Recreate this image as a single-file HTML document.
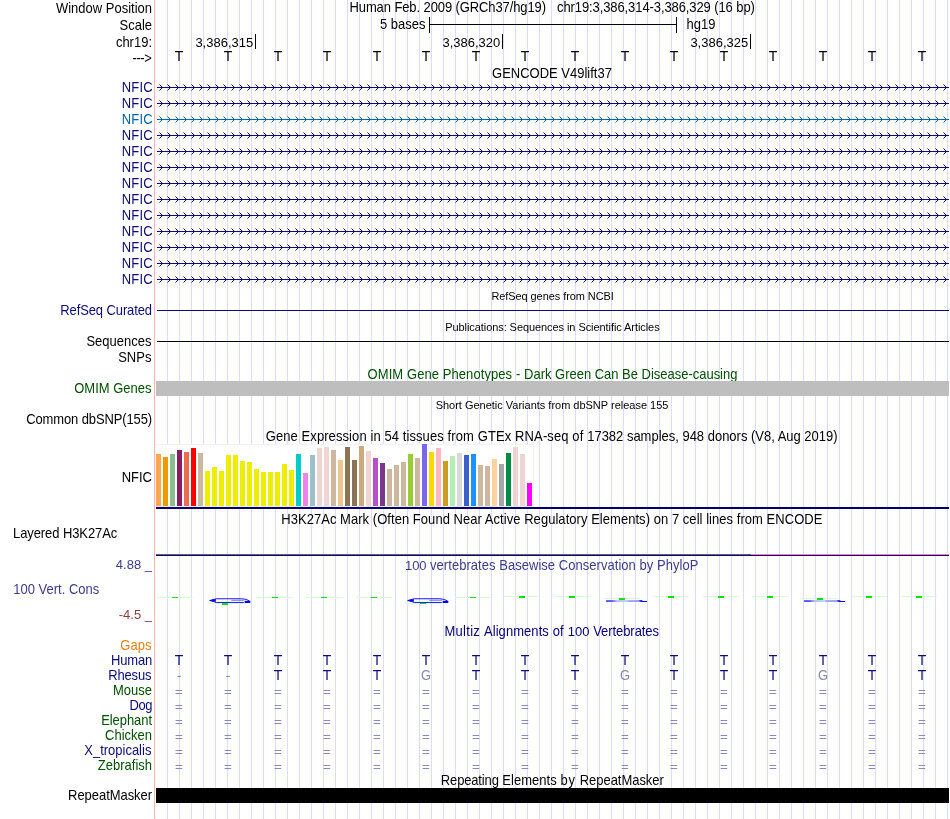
<!DOCTYPE html>
<html><head><meta charset="utf-8"><title>UCSC Genome Browser</title>
<style>
html,body{margin:0;padding:0;background:#fff;}
body{width:950px;height:819px;overflow:hidden;font-family:"Liberation Sans",sans-serif;}
svg{display:block;position:absolute;left:0;top:0;will-change:transform;}
text{font-family:"Liberation Sans",sans-serif;font-size:13px;}
.s{font-size:11px;}
.t{font-size:14px;}
.r{text-anchor:end;}
.c{text-anchor:middle;}
.x{shape-rendering:crispEdges;}
</style></head><body>
<svg width="950" height="819" viewBox="0 0 950 819">
<rect width="950" height="819" fill="#fff"/>
<g class="x" fill="#dcdcff">
<rect x="167" y="0" width="1" height="819"/><rect x="179" y="0" width="1" height="819"/><rect x="191" y="0" width="1" height="819"/><rect x="203" y="0" width="1" height="819"/><rect x="215" y="0" width="1" height="819"/><rect x="227" y="0" width="1" height="819"/><rect x="239" y="0" width="1" height="819"/><rect x="251" y="0" width="1" height="819"/><rect x="263" y="0" width="1" height="819"/><rect x="275" y="0" width="1" height="819"/><rect x="287" y="0" width="1" height="819"/><rect x="299" y="0" width="1" height="819"/><rect x="311" y="0" width="1" height="819"/><rect x="323" y="0" width="1" height="819"/><rect x="335" y="0" width="1" height="819"/><rect x="347" y="0" width="1" height="819"/><rect x="359" y="0" width="1" height="819"/><rect x="371" y="0" width="1" height="819"/><rect x="383" y="0" width="1" height="819"/><rect x="395" y="0" width="1" height="819"/><rect x="407" y="0" width="1" height="819"/><rect x="419" y="0" width="1" height="819"/><rect x="431" y="0" width="1" height="819"/><rect x="443" y="0" width="1" height="819"/><rect x="455" y="0" width="1" height="819"/><rect x="467" y="0" width="1" height="819"/><rect x="479" y="0" width="1" height="819"/><rect x="491" y="0" width="1" height="819"/><rect x="503" y="0" width="1" height="819"/><rect x="515" y="0" width="1" height="819"/><rect x="527" y="0" width="1" height="819"/><rect x="539" y="0" width="1" height="819"/><rect x="551" y="0" width="1" height="819"/><rect x="563" y="0" width="1" height="819"/><rect x="575" y="0" width="1" height="819"/><rect x="587" y="0" width="1" height="819"/><rect x="599" y="0" width="1" height="819"/><rect x="611" y="0" width="1" height="819"/><rect x="623" y="0" width="1" height="819"/><rect x="635" y="0" width="1" height="819"/><rect x="647" y="0" width="1" height="819"/><rect x="659" y="0" width="1" height="819"/><rect x="671" y="0" width="1" height="819"/><rect x="683" y="0" width="1" height="819"/><rect x="695" y="0" width="1" height="819"/><rect x="707" y="0" width="1" height="819"/><rect x="719" y="0" width="1" height="819"/><rect x="731" y="0" width="1" height="819"/><rect x="743" y="0" width="1" height="819"/><rect x="755" y="0" width="1" height="819"/><rect x="767" y="0" width="1" height="819"/><rect x="779" y="0" width="1" height="819"/><rect x="791" y="0" width="1" height="819"/><rect x="803" y="0" width="1" height="819"/><rect x="815" y="0" width="1" height="819"/><rect x="827" y="0" width="1" height="819"/><rect x="839" y="0" width="1" height="819"/><rect x="851" y="0" width="1" height="819"/><rect x="863" y="0" width="1" height="819"/><rect x="875" y="0" width="1" height="819"/><rect x="887" y="0" width="1" height="819"/><rect x="899" y="0" width="1" height="819"/><rect x="911" y="0" width="1" height="819"/><rect x="923" y="0" width="1" height="819"/><rect x="935" y="0" width="1" height="819"/><rect x="947" y="0" width="1" height="819"/>
</g>
<rect class="x" x="154" y="0" width="1" height="819" fill="#ffb4b4"/>
<g class="x" fill="#000">
<rect x="429" y="17" width="1" height="16"/><rect x="676" y="17" width="1" height="16"/><rect x="429" y="24" width="248" height="1"/>
<rect x="255" y="34" width="1" height="15"/><rect x="502" y="34" width="1" height="15"/><rect x="750" y="34" width="1" height="15"/>
</g>
<g fill="#000">
<text class="r" x="152" y="13" transform="matrix(1 0 0 1.075 0 -0.975)">Window Position</text>
<text class="r" x="152" y="30" transform="matrix(1 0 0 1.075 0 -2.250)">Scale</text>
<text class="r" x="152" y="47" transform="matrix(1 0 0 1.075 0 -3.525)">chr19:</text>
<text class="r" x="151.3" y="63.1" style="letter-spacing:-0.45px" transform="matrix(1 0 0 1.075 0 -4.732)">---&gt;</text>
<text x="349.5" y="12" style="letter-spacing:-0.096px" transform="matrix(1 0 0 1.075 0 -0.900)">Human Feb. 2009 (GRCh37/hg19)</text>
<text x="557" y="12" style="letter-spacing:-0.09px" transform="matrix(1 0 0 1.075 0 -0.900)">chr19:3,386,314-3,386,329 (16 bp)</text>
<text class="r" x="425.5" y="29" transform="matrix(1 0 0 1.075 0 -2.175)">5 bases</text>
<text x="686.5" y="29" transform="matrix(1 0 0 1.075 0 -2.175)">hg19</text>
<text class="r" x="253.2" y="47" transform="matrix(1 0 0 0.98 0 0.940)">3,386,315</text><text class="r" x="500.2" y="47" transform="matrix(1 0 0 0.98 0 0.940)">3,386,320</text><text class="r" x="748.2" y="47" transform="matrix(1 0 0 0.98 0 0.940)">3,386,325</text>
<text class="c t" x="179" y="60.8" transform="matrix(1 0 0 1.04 0 -2.432)">T</text><text class="c t" x="228" y="60.8" transform="matrix(1 0 0 1.04 0 -2.432)">T</text><text class="c t" x="278" y="60.8" transform="matrix(1 0 0 1.04 0 -2.432)">T</text><text class="c t" x="327" y="60.8" transform="matrix(1 0 0 1.04 0 -2.432)">T</text><text class="c t" x="377" y="60.8" transform="matrix(1 0 0 1.04 0 -2.432)">T</text><text class="c t" x="426" y="60.8" transform="matrix(1 0 0 1.04 0 -2.432)">T</text><text class="c t" x="476" y="60.8" transform="matrix(1 0 0 1.04 0 -2.432)">T</text><text class="c t" x="525" y="60.8" transform="matrix(1 0 0 1.04 0 -2.432)">T</text><text class="c t" x="575" y="60.8" transform="matrix(1 0 0 1.04 0 -2.432)">T</text><text class="c t" x="625" y="60.8" transform="matrix(1 0 0 1.04 0 -2.432)">T</text><text class="c t" x="674" y="60.8" transform="matrix(1 0 0 1.04 0 -2.432)">T</text><text class="c t" x="724" y="60.8" transform="matrix(1 0 0 1.04 0 -2.432)">T</text><text class="c t" x="773" y="60.8" transform="matrix(1 0 0 1.04 0 -2.432)">T</text><text class="c t" x="823" y="60.8" transform="matrix(1 0 0 1.04 0 -2.432)">T</text><text class="c t" x="872" y="60.8" transform="matrix(1 0 0 1.04 0 -2.432)">T</text><text class="c t" x="922" y="60.8" transform="matrix(1 0 0 1.04 0 -2.432)">T</text>
</g>
<text class="c" x="552" y="78" transform="matrix(1 0 0 1.075 0 -5.850)">GENCODE V49lift37</text>
<defs><linearGradient id="fg" x1="0" x2="1" y1="0" y2="0"><stop offset="0" stop-color="#3c3cff"/><stop offset="0.16" stop-color="#4848ff"/><stop offset="0.3" stop-color="#b4b4ff"/><stop offset="0.58" stop-color="#c4c4ff"/><stop offset="0.62" stop-color="#9c9cff"/><stop offset="0.9" stop-color="#8c8cff"/><stop offset="1" stop-color="#5050ff"/></linearGradient><g id="g"><rect class="x" x="157" y="-0.5" width="792" height="1" stroke="none"/><path fill="none" stroke-width="1" d="M159.5 -3l3 3l-3 3M167.5 -3l3 3l-3 3M175.5 -3l3 3l-3 3M183.5 -3l3 3l-3 3M191.5 -3l3 3l-3 3M199.5 -3l3 3l-3 3M207.5 -3l3 3l-3 3M215.5 -3l3 3l-3 3M223.5 -3l3 3l-3 3M231.5 -3l3 3l-3 3M239.5 -3l3 3l-3 3M247.5 -3l3 3l-3 3M255.5 -3l3 3l-3 3M263.5 -3l3 3l-3 3M271.5 -3l3 3l-3 3M279.5 -3l3 3l-3 3M287.5 -3l3 3l-3 3M295.5 -3l3 3l-3 3M303.5 -3l3 3l-3 3M311.5 -3l3 3l-3 3M319.5 -3l3 3l-3 3M327.5 -3l3 3l-3 3M335.5 -3l3 3l-3 3M343.5 -3l3 3l-3 3M351.5 -3l3 3l-3 3M359.5 -3l3 3l-3 3M367.5 -3l3 3l-3 3M375.5 -3l3 3l-3 3M383.5 -3l3 3l-3 3M391.5 -3l3 3l-3 3M399.5 -3l3 3l-3 3M407.5 -3l3 3l-3 3M415.5 -3l3 3l-3 3M423.5 -3l3 3l-3 3M431.5 -3l3 3l-3 3M439.5 -3l3 3l-3 3M447.5 -3l3 3l-3 3M455.5 -3l3 3l-3 3M463.5 -3l3 3l-3 3M471.5 -3l3 3l-3 3M479.5 -3l3 3l-3 3M487.5 -3l3 3l-3 3M495.5 -3l3 3l-3 3M503.5 -3l3 3l-3 3M511.5 -3l3 3l-3 3M519.5 -3l3 3l-3 3M527.5 -3l3 3l-3 3M535.5 -3l3 3l-3 3M543.5 -3l3 3l-3 3M551.5 -3l3 3l-3 3M559.5 -3l3 3l-3 3M567.5 -3l3 3l-3 3M575.5 -3l3 3l-3 3M583.5 -3l3 3l-3 3M591.5 -3l3 3l-3 3M599.5 -3l3 3l-3 3M607.5 -3l3 3l-3 3M615.5 -3l3 3l-3 3M623.5 -3l3 3l-3 3M631.5 -3l3 3l-3 3M639.5 -3l3 3l-3 3M647.5 -3l3 3l-3 3M655.5 -3l3 3l-3 3M663.5 -3l3 3l-3 3M671.5 -3l3 3l-3 3M679.5 -3l3 3l-3 3M687.5 -3l3 3l-3 3M695.5 -3l3 3l-3 3M703.5 -3l3 3l-3 3M711.5 -3l3 3l-3 3M719.5 -3l3 3l-3 3M727.5 -3l3 3l-3 3M735.5 -3l3 3l-3 3M743.5 -3l3 3l-3 3M751.5 -3l3 3l-3 3M759.5 -3l3 3l-3 3M767.5 -3l3 3l-3 3M775.5 -3l3 3l-3 3M783.5 -3l3 3l-3 3M791.5 -3l3 3l-3 3M799.5 -3l3 3l-3 3M807.5 -3l3 3l-3 3M815.5 -3l3 3l-3 3M823.5 -3l3 3l-3 3M831.5 -3l3 3l-3 3M839.5 -3l3 3l-3 3M847.5 -3l3 3l-3 3M855.5 -3l3 3l-3 3M863.5 -3l3 3l-3 3M871.5 -3l3 3l-3 3M879.5 -3l3 3l-3 3M887.5 -3l3 3l-3 3M895.5 -3l3 3l-3 3M903.5 -3l3 3l-3 3M911.5 -3l3 3l-3 3M919.5 -3l3 3l-3 3M927.5 -3l3 3l-3 3M935.5 -3l3 3l-3 3M943.5 -3l3 3l-3 3"/></g></defs>
<use href="#g" y="87.5" fill="#0c0c78" stroke="#0c0c78"/><text class="r" x="152.75" y="92" fill="#0c0c78" style="letter-spacing:0.15px" transform="matrix(1 0 0 1.118 0 -10.856)">NFIC</text>
<use href="#g" y="103.5" fill="#0c0c78" stroke="#0c0c78"/><text class="r" x="152.75" y="108" fill="#0c0c78" style="letter-spacing:0.15px" transform="matrix(1 0 0 1.118 0 -12.744)">NFIC</text>
<use href="#g" y="119.5" fill="#0166a8" stroke="#0166a8"/><text class="r" x="152.75" y="124" fill="#0166a8" style="letter-spacing:0.15px" transform="matrix(1 0 0 1.118 0 -14.632)">NFIC</text>
<use href="#g" y="135.5" fill="#0c0c78" stroke="#0c0c78"/><text class="r" x="152.75" y="140" fill="#0c0c78" style="letter-spacing:0.15px" transform="matrix(1 0 0 1.118 0 -16.520)">NFIC</text>
<use href="#g" y="151.5" fill="#0c0c78" stroke="#0c0c78"/><text class="r" x="152.75" y="156" fill="#0c0c78" style="letter-spacing:0.15px" transform="matrix(1 0 0 1.118 0 -18.408)">NFIC</text>
<use href="#g" y="167.5" fill="#0c0c78" stroke="#0c0c78"/><text class="r" x="152.75" y="172" fill="#0c0c78" style="letter-spacing:0.15px" transform="matrix(1 0 0 1.118 0 -20.296)">NFIC</text>
<use href="#g" y="183.5" fill="#0c0c78" stroke="#0c0c78"/><text class="r" x="152.75" y="188" fill="#0c0c78" style="letter-spacing:0.15px" transform="matrix(1 0 0 1.118 0 -22.184)">NFIC</text>
<use href="#g" y="199.5" fill="#0c0c78" stroke="#0c0c78"/><text class="r" x="152.75" y="204" fill="#0c0c78" style="letter-spacing:0.15px" transform="matrix(1 0 0 1.118 0 -24.072)">NFIC</text>
<use href="#g" y="215.5" fill="#0c0c78" stroke="#0c0c78"/><text class="r" x="152.75" y="220" fill="#0c0c78" style="letter-spacing:0.15px" transform="matrix(1 0 0 1.118 0 -25.960)">NFIC</text>
<use href="#g" y="231.5" fill="#0c0c78" stroke="#0c0c78"/><text class="r" x="152.75" y="236" fill="#0c0c78" style="letter-spacing:0.15px" transform="matrix(1 0 0 1.118 0 -27.848)">NFIC</text>
<use href="#g" y="247.5" fill="#0c0c78" stroke="#0c0c78"/><text class="r" x="152.75" y="252" fill="#0c0c78" style="letter-spacing:0.15px" transform="matrix(1 0 0 1.118 0 -29.736)">NFIC</text>
<use href="#g" y="263.5" fill="#0c0c78" stroke="#0c0c78"/><text class="r" x="152.75" y="268" fill="#0c0c78" style="letter-spacing:0.15px" transform="matrix(1 0 0 1.118 0 -31.624)">NFIC</text>
<use href="#g" y="279.5" fill="#0c0c78" stroke="#0c0c78"/><text class="r" x="152.75" y="284" fill="#0c0c78" style="letter-spacing:0.15px" transform="matrix(1 0 0 1.118 0 -33.512)">NFIC</text>
<text class="c s" x="552.6" y="300" style="letter-spacing:-0.067px" transform="matrix(1 0 0 1.057 0 -17.100)">RefSeq genes from NCBI</text>
<rect class="x" x="157" y="310" width="792" height="1" fill="#0c0c78"/>
<text class="r" x="152" y="315" fill="#0c0c78" style="letter-spacing:-0.1px" transform="matrix(1 0 0 1.075 0 -23.625)">RefSeq Curated</text>
<text class="c s" x="552.4" y="331" style="letter-spacing:-0.062px" transform="matrix(1 0 0 1.057 0 -18.867)">Publications: Sequences in Scientific Articles</text>
<rect class="x" x="157" y="341" width="792" height="1" fill="#000"/>
<text class="r" x="151.4" y="346" transform="matrix(1 0 0 1.075 0 -25.950)">Sequences</text>
<text class="r" x="151.4" y="362" transform="matrix(1 0 0 1.075 0 -27.150)">SNPs</text>
<text x="367.58" y="379" fill="#005000" style="letter-spacing:0.0838px" transform="matrix(1 0 0 1.075 0 -28.425)">OMIM Gene Phenotypes -</text><text x="524.13" y="379" fill="#005000" style="letter-spacing:-0.0117px" transform="matrix(1 0 0 1.075 0 -28.425)">Dark Green Can Be Disease-causing</text>
<rect class="x" x="156" y="381" width="793" height="15" fill="#bebebe"/>
<text class="r" x="151.5" y="393" fill="#005000" transform="matrix(1 0 0 1.075 0 -29.475)">OMIM Genes</text>
<text class="c s" x="552" y="409" transform="matrix(1 0 0 1.057 0 -23.313)">Short Genetic Variants from dbSNP release 155</text>
<text class="r" x="152" y="424" style="letter-spacing:-0.12px" transform="matrix(1 0 0 1.075 0 -31.800)">Common dbSNP(155)</text>
<text x="265.70" y="441" style="letter-spacing:0.0923px" transform="matrix(1 0 0 1.075 0 -33.075)">Gene Expression in 54 tissues from</text><text x="477.75" y="441" style="letter-spacing:0.1141px" transform="matrix(1 0 0 1.075 0 -33.075)">GTEx RNA-seq of</text><text x="587.21" y="441" style="letter-spacing:-0.0052px" transform="matrix(1 0 0 1.075 0 -33.075)">17382 samples, 948 donors (V8, Aug 2019)</text>
<rect class="x" x="156" y="444" width="378" height="63" fill="#fff"/>
<rect class="x" x="156" y="444" width="378" height="1" fill="#f2f2f2"/><rect class="x" x="533" y="444" width="1" height="63" fill="#f0f2f0"/><rect class="x" x="156" y="506" width="378" height="1" fill="#ececec"/>
<g class="x">
<rect x="156" y="454" width="5" height="52" fill="#ffa54f"/><rect x="163" y="457" width="5" height="49" fill="#ee9a00"/><rect x="170" y="454" width="5" height="52" fill="#8fbc8f"/><rect x="177" y="450" width="5" height="56" fill="#8b1c62"/><rect x="184" y="452" width="5" height="54" fill="#ee6a50"/><rect x="191" y="448" width="5" height="58" fill="#ff0000"/><rect x="198" y="453" width="5" height="53" fill="#cdb79e"/><rect x="205" y="471" width="5" height="35" fill="#eeee00"/><rect x="212" y="467" width="5" height="39" fill="#eeee00"/><rect x="219" y="471" width="5" height="35" fill="#eeee00"/><rect x="226" y="455" width="5" height="51" fill="#eeee00"/><rect x="233" y="455" width="5" height="51" fill="#eeee00"/><rect x="240" y="461" width="5" height="45" fill="#eeee00"/><rect x="247" y="462" width="5" height="44" fill="#eeee00"/><rect x="254" y="469" width="5" height="37" fill="#eeee00"/><rect x="261" y="472" width="5" height="34" fill="#eeee00"/><rect x="268" y="472" width="5" height="34" fill="#eeee00"/><rect x="275" y="472" width="5" height="34" fill="#eeee00"/><rect x="282" y="464" width="5" height="42" fill="#eeee00"/><rect x="289" y="470" width="5" height="36" fill="#eeee00"/><rect x="296" y="454" width="5" height="52" fill="#00cdcd"/><rect x="303" y="473" width="5" height="33" fill="#ee82ee"/><rect x="310" y="455" width="5" height="51" fill="#9ac0cd"/><rect x="317" y="448" width="5" height="58" fill="#eed5d2"/><rect x="324" y="447" width="5" height="59" fill="#eed5d2"/><rect x="331" y="450" width="5" height="56" fill="#cdb79e"/><rect x="338" y="460" width="5" height="46" fill="#eec591"/><rect x="345" y="447" width="5" height="59" fill="#8b7355"/><rect x="352" y="460" width="5" height="46" fill="#8b7355"/><rect x="359" y="446" width="5" height="60" fill="#cdaa7d"/><rect x="366" y="451" width="5" height="55" fill="#eed5d2"/><rect x="373" y="458" width="5" height="48" fill="#b452cd"/><rect x="380" y="463" width="5" height="43" fill="#7a378b"/><rect x="387" y="469" width="5" height="37" fill="#cdb79e"/><rect x="394" y="465" width="5" height="41" fill="#cdb79e"/><rect x="401" y="462" width="5" height="44" fill="#cdb79e"/><rect x="408" y="454" width="5" height="52" fill="#9acd32"/><rect x="415" y="458" width="5" height="48" fill="#cdb79e"/><rect x="422" y="444" width="5" height="62" fill="#7a67ee"/><rect x="429" y="452" width="5" height="54" fill="#ffd700"/><rect x="436" y="448" width="5" height="58" fill="#ffb6c1"/><rect x="443" y="461" width="5" height="45" fill="#cd9b1d"/><rect x="450" y="456" width="5" height="50" fill="#b4eeb4"/><rect x="457" y="453" width="5" height="53" fill="#d9d9d9"/><rect x="464" y="455" width="5" height="51" fill="#3a5fcd"/><rect x="471" y="454" width="5" height="52" fill="#1e90ff"/><rect x="478" y="465" width="5" height="41" fill="#cdb79e"/><rect x="485" y="466" width="5" height="40" fill="#cdb79e"/><rect x="492" y="459" width="5" height="47" fill="#ffd39b"/><rect x="499" y="464" width="5" height="42" fill="#a6a6a6"/><rect x="506" y="453" width="5" height="53" fill="#008b45"/><rect x="513" y="447" width="5" height="59" fill="#eed5d2"/><rect x="520" y="454" width="5" height="52" fill="#eed5d2"/><rect x="527" y="483" width="5" height="23" fill="#ff00ff"/>
</g>
<rect class="x" x="156" y="507" width="793" height="2" fill="#000070"/>
<text class="r" x="152" y="482" transform="matrix(1 0 0 1.118 0 -56.876)">NFIC</text>
<text class="c" x="551.85" y="524" style="letter-spacing:0.048px" transform="matrix(1 0 0 1.075 0 -39.300)">H3K27Ac Mark (Often Found Near Active Regulatory Elements) on 7 cell lines from ENCODE</text>
<text x="13" y="538" style="letter-spacing:-0.08px" transform="matrix(1 0 0 1.075 0 -40.350)">Layered H3K27Ac</text>
<g class="x"><rect x="156" y="554" width="595" height="1" fill="#4a5cbe"/><rect x="751" y="554" width="198" height="1" fill="#e07cff"/><rect x="156" y="555" width="793" height="1" fill="#2a0a2c"/></g>
<text x="405.01" y="570" fill="#3c3c8c" style="letter-spacing:-0.0640px" transform="matrix(1 0 0 0.98 0 11.400)">100</text><text x="430.06" y="570" fill="#3c3c8c" style="letter-spacing:0.0452px" transform="matrix(1 0 0 1.075 0 -42.750)">vertebrates Basewise Conservation by PhyloP</text>
<text class="r" x="152" y="569" fill="#3c3c8c" transform="matrix(1 0 0 0.98 0 11.380)">4.88 _</text>
<text x="13.3" y="594" fill="#3c3c8c" transform="matrix(1 0 0 1.075 0 -44.550)">100 Vert. Cons</text>
<text class="r" x="152" y="619" fill="#8c3c3c" transform="matrix(1 0 0 0.98 0 12.380)">-4.5 _</text>
<g class="x">
<rect x="157" y="597" width="36" height="1" fill="#d8ffd8"/><rect x="172" y="597" width="6" height="1" fill="#00e800"/><rect x="207" y="603" width="36" height="1" fill="#d8ffd8"/><rect x="222" y="603" width="6" height="2" fill="#00e800"/><rect x="257" y="597" width="36" height="1" fill="#d8ffd8"/><rect x="272" y="597" width="6" height="1" fill="#00e800"/><rect x="306" y="597" width="36" height="1" fill="#d8ffd8"/><rect x="321" y="597" width="6" height="1" fill="#00e800"/><rect x="356" y="597" width="36" height="1" fill="#d8ffd8"/><rect x="371" y="597" width="6" height="1" fill="#00e800"/><rect x="405" y="603" width="36" height="1" fill="#d8ffd8"/><rect x="420" y="603" width="6" height="1" fill="#00e800"/><rect x="455" y="597" width="36" height="1" fill="#d8ffd8"/><rect x="470" y="597" width="6" height="1" fill="#00e800"/><rect x="504" y="596" width="36" height="1" fill="#d8ffd8"/><rect x="519" y="596" width="6" height="2" fill="#00e800"/><rect x="554" y="596" width="36" height="1" fill="#d8ffd8"/><rect x="569" y="596" width="6" height="2" fill="#00e800"/><rect x="604" y="598" width="36" height="1" fill="#d8ffd8"/><rect x="619" y="598" width="6" height="2" fill="#00e800"/><rect x="653" y="596" width="36" height="1" fill="#d8ffd8"/><rect x="668" y="596" width="6" height="2" fill="#00e800"/><rect x="703" y="596" width="36" height="1" fill="#d8ffd8"/><rect x="718" y="596" width="6" height="2" fill="#00e800"/><rect x="752" y="596" width="36" height="1" fill="#d8ffd8"/><rect x="767" y="596" width="6" height="2" fill="#00e800"/><rect x="802" y="598" width="36" height="1" fill="#d8ffd8"/><rect x="817" y="598" width="6" height="2" fill="#00e800"/><rect x="851" y="596" width="36" height="1" fill="#d8ffd8"/><rect x="866" y="596" width="6" height="2" fill="#00e800"/><rect x="901" y="596" width="36" height="1" fill="#d8ffd8"/><rect x="916" y="596" width="6" height="2" fill="#00e800"/>
</g>
<g transform="translate(208.8,598)" fill="none" stroke="#0a0aff"><path d="M1 2.5 L7.5 0.75 L33 0.75 Q38 1 40.6 2.9 M1 2.5 L7.5 4.45 L35 4.45" stroke-width="0.95"/><path d="M0 2.5 L7 1 L7 4.1 Z" fill="#0a0aff" stroke="none"/><path d="M22.5 2.35 L35 2.35" stroke-width="0.7" stroke="#4646ff"/><rect x="35.8" y="2.8" width="5.7" height="2.2" fill="#0000ff" stroke="none"/></g>
<g transform="translate(406.8,598)" fill="none" stroke="#0a0aff"><path d="M1 2.5 L7.5 0.75 L33 0.75 Q38 1 40.6 2.9 M1 2.5 L7.5 4.45 L35 4.45" stroke-width="0.95"/><path d="M0 2.5 L7 1 L7 4.1 Z" fill="#0a0aff" stroke="none"/><path d="M22.5 2.35 L35 2.35" stroke-width="0.7" stroke="#4646ff"/><rect x="35.8" y="2.8" width="5.7" height="2.2" fill="#0000ff" stroke="none"/></g>
<g transform="translate(606.1,600)" stroke="none"><rect x="0" y="0.2" width="36" height="1.7" fill="url(#fg)"/><path d="M33 0.3 L36 0.4 L37 1 L41 1 L41 2.1 L36 2.1 L34 1.6 Z" fill="#0808ff"/></g>
<g transform="translate(804.1,600)" stroke="none"><rect x="0" y="0.2" width="36" height="1.7" fill="url(#fg)"/><path d="M33 0.3 L36 0.4 L37 1 L41 1 L41 2.1 L36 2.1 L34 1.6 Z" fill="#0808ff"/></g>
<text x="444.53" y="636" fill="#000078" style="letter-spacing:0.2688px" transform="matrix(1 0 0 1.075 0 -47.700)">Multiz</text><text x="483.97" y="636" fill="#000078" style="letter-spacing:0.0691px" transform="matrix(1 0 0 1.075 0 -47.700)">Alignments</text><text x="552.65" y="636" fill="#000078" style="letter-spacing:0.2340px" transform="matrix(1 0 0 1.075 0 -47.700)">of</text><text x="567.81" y="636" fill="#000078" style="letter-spacing:0.0328px" transform="matrix(1 0 0 0.98 0 12.720)">100</text><text x="593.24" y="636" fill="#000078" style="letter-spacing:-0.0676px" transform="matrix(1 0 0 1.075 0 -47.700)">Vertebrates</text>
<text class="r" x="151.4" y="650" fill="#e08214" style="letter-spacing:0px" transform="matrix(1 0 0 1.075 0 -48.750)">Gaps</text><text class="r" x="152" y="665" fill="#0c0c78" style="letter-spacing:-0.2px" transform="matrix(1 0 0 1.075 0 -49.875)">Human</text><text class="r" x="151.4" y="680" fill="#0c0c78" style="letter-spacing:-0.15px" transform="matrix(1 0 0 1.075 0 -51.000)">Rhesus</text><text class="r" x="152" y="695" fill="#005000" style="letter-spacing:0px" transform="matrix(1 0 0 1.075 0 -52.125)">Mouse</text><text class="r" x="152" y="710" fill="#0c0c78" style="letter-spacing:-0.45px" transform="matrix(1 0 0 1.075 0 -53.250)">Dog</text><text class="r" x="152" y="725" fill="#005000" style="letter-spacing:-0.06px" transform="matrix(1 0 0 1.075 0 -54.375)">Elephant</text><text class="r" x="152" y="740" fill="#005000" style="letter-spacing:0px" transform="matrix(1 0 0 1.075 0 -55.500)">Chicken</text><text class="r" x="151.4" y="755" fill="#0c0c78" style="letter-spacing:0px" transform="matrix(1 0 0 1.075 0 -56.625)">X_tropicalis</text><text class="r" x="152" y="770" fill="#005000" style="letter-spacing:0px" transform="matrix(1 0 0 1.075 0 -57.750)">Zebrafish</text>
<g fill="#0c0c78">
<text class="c t" x="179" y="664.8" transform="matrix(1 0 0 1.04 0 -26.592)">T</text><rect x="177.3" y="675.9" width="3.6" height="0.9" fill="#7070b0"/><rect x="175.6" y="690.0" width="6.6" height="0.9" fill="#7c7cb6"/><rect x="175.6" y="693.1" width="6.6" height="0.9" fill="#7c7cb6"/><rect x="175.6" y="705.0" width="6.6" height="0.9" fill="#7c7cb6"/><rect x="175.6" y="708.1" width="6.6" height="0.9" fill="#7c7cb6"/><rect x="175.6" y="720.0" width="6.6" height="0.9" fill="#7c7cb6"/><rect x="175.6" y="723.1" width="6.6" height="0.9" fill="#7c7cb6"/><rect x="175.6" y="735.0" width="6.6" height="0.9" fill="#7c7cb6"/><rect x="175.6" y="738.1" width="6.6" height="0.9" fill="#7c7cb6"/><rect x="175.6" y="750.0" width="6.6" height="0.9" fill="#7c7cb6"/><rect x="175.6" y="753.1" width="6.6" height="0.9" fill="#7c7cb6"/><rect x="175.6" y="765.0" width="6.6" height="0.9" fill="#7c7cb6"/><rect x="175.6" y="768.1" width="6.6" height="0.9" fill="#7c7cb6"/>
<text class="c t" x="228" y="664.8" transform="matrix(1 0 0 1.04 0 -26.592)">T</text><rect x="226.3" y="675.9" width="3.6" height="0.9" fill="#7070b0"/><rect x="224.6" y="690.0" width="6.6" height="0.9" fill="#7c7cb6"/><rect x="224.6" y="693.1" width="6.6" height="0.9" fill="#7c7cb6"/><rect x="224.6" y="705.0" width="6.6" height="0.9" fill="#7c7cb6"/><rect x="224.6" y="708.1" width="6.6" height="0.9" fill="#7c7cb6"/><rect x="224.6" y="720.0" width="6.6" height="0.9" fill="#7c7cb6"/><rect x="224.6" y="723.1" width="6.6" height="0.9" fill="#7c7cb6"/><rect x="224.6" y="735.0" width="6.6" height="0.9" fill="#7c7cb6"/><rect x="224.6" y="738.1" width="6.6" height="0.9" fill="#7c7cb6"/><rect x="224.6" y="750.0" width="6.6" height="0.9" fill="#7c7cb6"/><rect x="224.6" y="753.1" width="6.6" height="0.9" fill="#7c7cb6"/><rect x="224.6" y="765.0" width="6.6" height="0.9" fill="#7c7cb6"/><rect x="224.6" y="768.1" width="6.6" height="0.9" fill="#7c7cb6"/>
<text class="c t" x="278" y="664.8" transform="matrix(1 0 0 1.04 0 -26.592)">T</text><text class="c t" x="278" y="679.8" transform="matrix(1 0 0 1.04 0 -27.192)">T</text><rect x="274.6" y="690.0" width="6.6" height="0.9" fill="#7c7cb6"/><rect x="274.6" y="693.1" width="6.6" height="0.9" fill="#7c7cb6"/><rect x="274.6" y="705.0" width="6.6" height="0.9" fill="#7c7cb6"/><rect x="274.6" y="708.1" width="6.6" height="0.9" fill="#7c7cb6"/><rect x="274.6" y="720.0" width="6.6" height="0.9" fill="#7c7cb6"/><rect x="274.6" y="723.1" width="6.6" height="0.9" fill="#7c7cb6"/><rect x="274.6" y="735.0" width="6.6" height="0.9" fill="#7c7cb6"/><rect x="274.6" y="738.1" width="6.6" height="0.9" fill="#7c7cb6"/><rect x="274.6" y="750.0" width="6.6" height="0.9" fill="#7c7cb6"/><rect x="274.6" y="753.1" width="6.6" height="0.9" fill="#7c7cb6"/><rect x="274.6" y="765.0" width="6.6" height="0.9" fill="#7c7cb6"/><rect x="274.6" y="768.1" width="6.6" height="0.9" fill="#7c7cb6"/>
<text class="c t" x="327" y="664.8" transform="matrix(1 0 0 1.04 0 -26.592)">T</text><text class="c t" x="327" y="679.8" transform="matrix(1 0 0 1.04 0 -27.192)">T</text><rect x="323.6" y="690.0" width="6.6" height="0.9" fill="#7c7cb6"/><rect x="323.6" y="693.1" width="6.6" height="0.9" fill="#7c7cb6"/><rect x="323.6" y="705.0" width="6.6" height="0.9" fill="#7c7cb6"/><rect x="323.6" y="708.1" width="6.6" height="0.9" fill="#7c7cb6"/><rect x="323.6" y="720.0" width="6.6" height="0.9" fill="#7c7cb6"/><rect x="323.6" y="723.1" width="6.6" height="0.9" fill="#7c7cb6"/><rect x="323.6" y="735.0" width="6.6" height="0.9" fill="#7c7cb6"/><rect x="323.6" y="738.1" width="6.6" height="0.9" fill="#7c7cb6"/><rect x="323.6" y="750.0" width="6.6" height="0.9" fill="#7c7cb6"/><rect x="323.6" y="753.1" width="6.6" height="0.9" fill="#7c7cb6"/><rect x="323.6" y="765.0" width="6.6" height="0.9" fill="#7c7cb6"/><rect x="323.6" y="768.1" width="6.6" height="0.9" fill="#7c7cb6"/>
<text class="c t" x="377" y="664.8" transform="matrix(1 0 0 1.04 0 -26.592)">T</text><text class="c t" x="377" y="679.8" transform="matrix(1 0 0 1.04 0 -27.192)">T</text><rect x="373.6" y="690.0" width="6.6" height="0.9" fill="#7c7cb6"/><rect x="373.6" y="693.1" width="6.6" height="0.9" fill="#7c7cb6"/><rect x="373.6" y="705.0" width="6.6" height="0.9" fill="#7c7cb6"/><rect x="373.6" y="708.1" width="6.6" height="0.9" fill="#7c7cb6"/><rect x="373.6" y="720.0" width="6.6" height="0.9" fill="#7c7cb6"/><rect x="373.6" y="723.1" width="6.6" height="0.9" fill="#7c7cb6"/><rect x="373.6" y="735.0" width="6.6" height="0.9" fill="#7c7cb6"/><rect x="373.6" y="738.1" width="6.6" height="0.9" fill="#7c7cb6"/><rect x="373.6" y="750.0" width="6.6" height="0.9" fill="#7c7cb6"/><rect x="373.6" y="753.1" width="6.6" height="0.9" fill="#7c7cb6"/><rect x="373.6" y="765.0" width="6.6" height="0.9" fill="#7c7cb6"/><rect x="373.6" y="768.1" width="6.6" height="0.9" fill="#7c7cb6"/>
<text class="c t" x="426" y="664.8" transform="matrix(1 0 0 1.04 0 -26.592)">T</text><text class="c" x="426.15" y="679.7" fill="#8888b8" transform="matrix(1 0 0 1.118 0 -80.205)">G</text><rect x="422.6" y="690.0" width="6.6" height="0.9" fill="#7c7cb6"/><rect x="422.6" y="693.1" width="6.6" height="0.9" fill="#7c7cb6"/><rect x="422.6" y="705.0" width="6.6" height="0.9" fill="#7c7cb6"/><rect x="422.6" y="708.1" width="6.6" height="0.9" fill="#7c7cb6"/><rect x="422.6" y="720.0" width="6.6" height="0.9" fill="#7c7cb6"/><rect x="422.6" y="723.1" width="6.6" height="0.9" fill="#7c7cb6"/><rect x="422.6" y="735.0" width="6.6" height="0.9" fill="#7c7cb6"/><rect x="422.6" y="738.1" width="6.6" height="0.9" fill="#7c7cb6"/><rect x="422.6" y="750.0" width="6.6" height="0.9" fill="#7c7cb6"/><rect x="422.6" y="753.1" width="6.6" height="0.9" fill="#7c7cb6"/><rect x="422.6" y="765.0" width="6.6" height="0.9" fill="#7c7cb6"/><rect x="422.6" y="768.1" width="6.6" height="0.9" fill="#7c7cb6"/>
<text class="c t" x="476" y="664.8" transform="matrix(1 0 0 1.04 0 -26.592)">T</text><text class="c t" x="476" y="679.8" transform="matrix(1 0 0 1.04 0 -27.192)">T</text><rect x="472.6" y="690.0" width="6.6" height="0.9" fill="#7c7cb6"/><rect x="472.6" y="693.1" width="6.6" height="0.9" fill="#7c7cb6"/><rect x="472.6" y="705.0" width="6.6" height="0.9" fill="#7c7cb6"/><rect x="472.6" y="708.1" width="6.6" height="0.9" fill="#7c7cb6"/><rect x="472.6" y="720.0" width="6.6" height="0.9" fill="#7c7cb6"/><rect x="472.6" y="723.1" width="6.6" height="0.9" fill="#7c7cb6"/><rect x="472.6" y="735.0" width="6.6" height="0.9" fill="#7c7cb6"/><rect x="472.6" y="738.1" width="6.6" height="0.9" fill="#7c7cb6"/><rect x="472.6" y="750.0" width="6.6" height="0.9" fill="#7c7cb6"/><rect x="472.6" y="753.1" width="6.6" height="0.9" fill="#7c7cb6"/><rect x="472.6" y="765.0" width="6.6" height="0.9" fill="#7c7cb6"/><rect x="472.6" y="768.1" width="6.6" height="0.9" fill="#7c7cb6"/>
<text class="c t" x="525" y="664.8" transform="matrix(1 0 0 1.04 0 -26.592)">T</text><text class="c t" x="525" y="679.8" transform="matrix(1 0 0 1.04 0 -27.192)">T</text><rect x="521.6" y="690.0" width="6.6" height="0.9" fill="#7c7cb6"/><rect x="521.6" y="693.1" width="6.6" height="0.9" fill="#7c7cb6"/><rect x="521.6" y="705.0" width="6.6" height="0.9" fill="#7c7cb6"/><rect x="521.6" y="708.1" width="6.6" height="0.9" fill="#7c7cb6"/><rect x="521.6" y="720.0" width="6.6" height="0.9" fill="#7c7cb6"/><rect x="521.6" y="723.1" width="6.6" height="0.9" fill="#7c7cb6"/><rect x="521.6" y="735.0" width="6.6" height="0.9" fill="#7c7cb6"/><rect x="521.6" y="738.1" width="6.6" height="0.9" fill="#7c7cb6"/><rect x="521.6" y="750.0" width="6.6" height="0.9" fill="#7c7cb6"/><rect x="521.6" y="753.1" width="6.6" height="0.9" fill="#7c7cb6"/><rect x="521.6" y="765.0" width="6.6" height="0.9" fill="#7c7cb6"/><rect x="521.6" y="768.1" width="6.6" height="0.9" fill="#7c7cb6"/>
<text class="c t" x="575" y="664.8" transform="matrix(1 0 0 1.04 0 -26.592)">T</text><text class="c t" x="575" y="679.8" transform="matrix(1 0 0 1.04 0 -27.192)">T</text><rect x="571.6" y="690.0" width="6.6" height="0.9" fill="#7c7cb6"/><rect x="571.6" y="693.1" width="6.6" height="0.9" fill="#7c7cb6"/><rect x="571.6" y="705.0" width="6.6" height="0.9" fill="#7c7cb6"/><rect x="571.6" y="708.1" width="6.6" height="0.9" fill="#7c7cb6"/><rect x="571.6" y="720.0" width="6.6" height="0.9" fill="#7c7cb6"/><rect x="571.6" y="723.1" width="6.6" height="0.9" fill="#7c7cb6"/><rect x="571.6" y="735.0" width="6.6" height="0.9" fill="#7c7cb6"/><rect x="571.6" y="738.1" width="6.6" height="0.9" fill="#7c7cb6"/><rect x="571.6" y="750.0" width="6.6" height="0.9" fill="#7c7cb6"/><rect x="571.6" y="753.1" width="6.6" height="0.9" fill="#7c7cb6"/><rect x="571.6" y="765.0" width="6.6" height="0.9" fill="#7c7cb6"/><rect x="571.6" y="768.1" width="6.6" height="0.9" fill="#7c7cb6"/>
<text class="c t" x="625" y="664.8" transform="matrix(1 0 0 1.04 0 -26.592)">T</text><text class="c" x="625.15" y="679.7" fill="#8888b8" transform="matrix(1 0 0 1.118 0 -80.205)">G</text><rect x="621.6" y="690.0" width="6.6" height="0.9" fill="#7c7cb6"/><rect x="621.6" y="693.1" width="6.6" height="0.9" fill="#7c7cb6"/><rect x="621.6" y="705.0" width="6.6" height="0.9" fill="#7c7cb6"/><rect x="621.6" y="708.1" width="6.6" height="0.9" fill="#7c7cb6"/><rect x="621.6" y="720.0" width="6.6" height="0.9" fill="#7c7cb6"/><rect x="621.6" y="723.1" width="6.6" height="0.9" fill="#7c7cb6"/><rect x="621.6" y="735.0" width="6.6" height="0.9" fill="#7c7cb6"/><rect x="621.6" y="738.1" width="6.6" height="0.9" fill="#7c7cb6"/><rect x="621.6" y="750.0" width="6.6" height="0.9" fill="#7c7cb6"/><rect x="621.6" y="753.1" width="6.6" height="0.9" fill="#7c7cb6"/><rect x="621.6" y="765.0" width="6.6" height="0.9" fill="#7c7cb6"/><rect x="621.6" y="768.1" width="6.6" height="0.9" fill="#7c7cb6"/>
<text class="c t" x="674" y="664.8" transform="matrix(1 0 0 1.04 0 -26.592)">T</text><text class="c t" x="674" y="679.8" transform="matrix(1 0 0 1.04 0 -27.192)">T</text><rect x="670.6" y="690.0" width="6.6" height="0.9" fill="#7c7cb6"/><rect x="670.6" y="693.1" width="6.6" height="0.9" fill="#7c7cb6"/><rect x="670.6" y="705.0" width="6.6" height="0.9" fill="#7c7cb6"/><rect x="670.6" y="708.1" width="6.6" height="0.9" fill="#7c7cb6"/><rect x="670.6" y="720.0" width="6.6" height="0.9" fill="#7c7cb6"/><rect x="670.6" y="723.1" width="6.6" height="0.9" fill="#7c7cb6"/><rect x="670.6" y="735.0" width="6.6" height="0.9" fill="#7c7cb6"/><rect x="670.6" y="738.1" width="6.6" height="0.9" fill="#7c7cb6"/><rect x="670.6" y="750.0" width="6.6" height="0.9" fill="#7c7cb6"/><rect x="670.6" y="753.1" width="6.6" height="0.9" fill="#7c7cb6"/><rect x="670.6" y="765.0" width="6.6" height="0.9" fill="#7c7cb6"/><rect x="670.6" y="768.1" width="6.6" height="0.9" fill="#7c7cb6"/>
<text class="c t" x="724" y="664.8" transform="matrix(1 0 0 1.04 0 -26.592)">T</text><text class="c t" x="724" y="679.8" transform="matrix(1 0 0 1.04 0 -27.192)">T</text><rect x="720.6" y="690.0" width="6.6" height="0.9" fill="#7c7cb6"/><rect x="720.6" y="693.1" width="6.6" height="0.9" fill="#7c7cb6"/><rect x="720.6" y="705.0" width="6.6" height="0.9" fill="#7c7cb6"/><rect x="720.6" y="708.1" width="6.6" height="0.9" fill="#7c7cb6"/><rect x="720.6" y="720.0" width="6.6" height="0.9" fill="#7c7cb6"/><rect x="720.6" y="723.1" width="6.6" height="0.9" fill="#7c7cb6"/><rect x="720.6" y="735.0" width="6.6" height="0.9" fill="#7c7cb6"/><rect x="720.6" y="738.1" width="6.6" height="0.9" fill="#7c7cb6"/><rect x="720.6" y="750.0" width="6.6" height="0.9" fill="#7c7cb6"/><rect x="720.6" y="753.1" width="6.6" height="0.9" fill="#7c7cb6"/><rect x="720.6" y="765.0" width="6.6" height="0.9" fill="#7c7cb6"/><rect x="720.6" y="768.1" width="6.6" height="0.9" fill="#7c7cb6"/>
<text class="c t" x="773" y="664.8" transform="matrix(1 0 0 1.04 0 -26.592)">T</text><text class="c t" x="773" y="679.8" transform="matrix(1 0 0 1.04 0 -27.192)">T</text><rect x="769.6" y="690.0" width="6.6" height="0.9" fill="#7c7cb6"/><rect x="769.6" y="693.1" width="6.6" height="0.9" fill="#7c7cb6"/><rect x="769.6" y="705.0" width="6.6" height="0.9" fill="#7c7cb6"/><rect x="769.6" y="708.1" width="6.6" height="0.9" fill="#7c7cb6"/><rect x="769.6" y="720.0" width="6.6" height="0.9" fill="#7c7cb6"/><rect x="769.6" y="723.1" width="6.6" height="0.9" fill="#7c7cb6"/><rect x="769.6" y="735.0" width="6.6" height="0.9" fill="#7c7cb6"/><rect x="769.6" y="738.1" width="6.6" height="0.9" fill="#7c7cb6"/><rect x="769.6" y="750.0" width="6.6" height="0.9" fill="#7c7cb6"/><rect x="769.6" y="753.1" width="6.6" height="0.9" fill="#7c7cb6"/><rect x="769.6" y="765.0" width="6.6" height="0.9" fill="#7c7cb6"/><rect x="769.6" y="768.1" width="6.6" height="0.9" fill="#7c7cb6"/>
<text class="c t" x="823" y="664.8" transform="matrix(1 0 0 1.04 0 -26.592)">T</text><text class="c" x="823.15" y="679.7" fill="#8888b8" transform="matrix(1 0 0 1.118 0 -80.205)">G</text><rect x="819.6" y="690.0" width="6.6" height="0.9" fill="#7c7cb6"/><rect x="819.6" y="693.1" width="6.6" height="0.9" fill="#7c7cb6"/><rect x="819.6" y="705.0" width="6.6" height="0.9" fill="#7c7cb6"/><rect x="819.6" y="708.1" width="6.6" height="0.9" fill="#7c7cb6"/><rect x="819.6" y="720.0" width="6.6" height="0.9" fill="#7c7cb6"/><rect x="819.6" y="723.1" width="6.6" height="0.9" fill="#7c7cb6"/><rect x="819.6" y="735.0" width="6.6" height="0.9" fill="#7c7cb6"/><rect x="819.6" y="738.1" width="6.6" height="0.9" fill="#7c7cb6"/><rect x="819.6" y="750.0" width="6.6" height="0.9" fill="#7c7cb6"/><rect x="819.6" y="753.1" width="6.6" height="0.9" fill="#7c7cb6"/><rect x="819.6" y="765.0" width="6.6" height="0.9" fill="#7c7cb6"/><rect x="819.6" y="768.1" width="6.6" height="0.9" fill="#7c7cb6"/>
<text class="c t" x="872" y="664.8" transform="matrix(1 0 0 1.04 0 -26.592)">T</text><text class="c t" x="872" y="679.8" transform="matrix(1 0 0 1.04 0 -27.192)">T</text><rect x="868.6" y="690.0" width="6.6" height="0.9" fill="#7c7cb6"/><rect x="868.6" y="693.1" width="6.6" height="0.9" fill="#7c7cb6"/><rect x="868.6" y="705.0" width="6.6" height="0.9" fill="#7c7cb6"/><rect x="868.6" y="708.1" width="6.6" height="0.9" fill="#7c7cb6"/><rect x="868.6" y="720.0" width="6.6" height="0.9" fill="#7c7cb6"/><rect x="868.6" y="723.1" width="6.6" height="0.9" fill="#7c7cb6"/><rect x="868.6" y="735.0" width="6.6" height="0.9" fill="#7c7cb6"/><rect x="868.6" y="738.1" width="6.6" height="0.9" fill="#7c7cb6"/><rect x="868.6" y="750.0" width="6.6" height="0.9" fill="#7c7cb6"/><rect x="868.6" y="753.1" width="6.6" height="0.9" fill="#7c7cb6"/><rect x="868.6" y="765.0" width="6.6" height="0.9" fill="#7c7cb6"/><rect x="868.6" y="768.1" width="6.6" height="0.9" fill="#7c7cb6"/>
<text class="c t" x="922" y="664.8" transform="matrix(1 0 0 1.04 0 -26.592)">T</text><text class="c t" x="922" y="679.8" transform="matrix(1 0 0 1.04 0 -27.192)">T</text><rect x="918.6" y="690.0" width="6.6" height="0.9" fill="#7c7cb6"/><rect x="918.6" y="693.1" width="6.6" height="0.9" fill="#7c7cb6"/><rect x="918.6" y="705.0" width="6.6" height="0.9" fill="#7c7cb6"/><rect x="918.6" y="708.1" width="6.6" height="0.9" fill="#7c7cb6"/><rect x="918.6" y="720.0" width="6.6" height="0.9" fill="#7c7cb6"/><rect x="918.6" y="723.1" width="6.6" height="0.9" fill="#7c7cb6"/><rect x="918.6" y="735.0" width="6.6" height="0.9" fill="#7c7cb6"/><rect x="918.6" y="738.1" width="6.6" height="0.9" fill="#7c7cb6"/><rect x="918.6" y="750.0" width="6.6" height="0.9" fill="#7c7cb6"/><rect x="918.6" y="753.1" width="6.6" height="0.9" fill="#7c7cb6"/><rect x="918.6" y="765.0" width="6.6" height="0.9" fill="#7c7cb6"/><rect x="918.6" y="768.1" width="6.6" height="0.9" fill="#7c7cb6"/>
</g>
<text x="440.83" y="785" style="letter-spacing:-0.1480px" transform="matrix(1 0 0 1.075 0 -58.875)">Repeating</text><text x="502.23" y="785" style="letter-spacing:0.0585px" transform="matrix(1 0 0 1.075 0 -58.875)">Elements</text><text x="560.56" y="785" style="letter-spacing:0.6099px" transform="matrix(1 0 0 1.075 0 -58.875)">by</text><text x="579.73" y="785" style="letter-spacing:-0.0324px" transform="matrix(1 0 0 1.075 0 -58.875)">RepeatMasker</text>
<rect class="x" x="156" y="788" width="793" height="15" fill="#000"/>
<text class="r" x="152" y="800" style="letter-spacing:-0.05px" transform="matrix(1 0 0 1.075 0 -60.000)">RepeatMasker</text>
</svg>
</body></html>
